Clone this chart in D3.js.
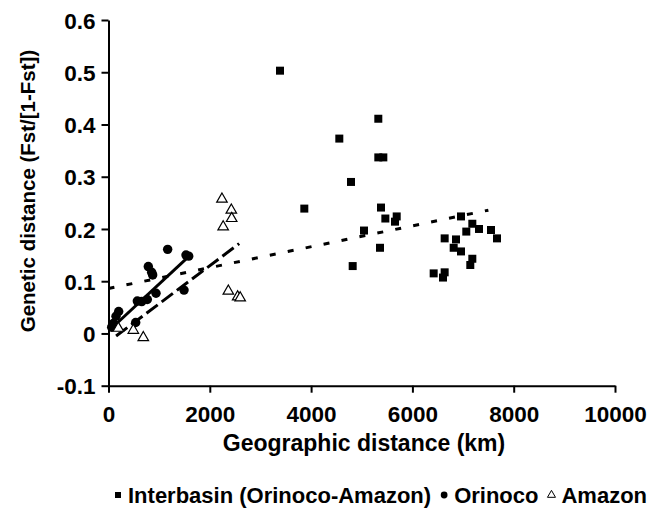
<html><head>
  <meta charset="utf-8">
  <script src="https://d3js.org/d3.v7.min.js"></script>
  <style>
    body { margin: 0; background: #fff; }
    text { font-family: 'Liberation Sans', Arial, sans-serif; font-weight: bold; fill: #000; }
  </style>
</head>
<body>
  <script>
    // Interbasin (Orinoco-Amazon) pairs: geographic km, genetic distance
    const interX = [3386, 5327, 4557, 5327, 5426, 4788, 3866, 5380, 5466, 5690, 5656, 5044, 5360, 4821,
                    6959, 7183, 7064, 7315, 7552, 7670, 6637, 6861, 6815, 6959, 7183, 7143, 6420, 6637, 6604]
    const interY = [0.503, 0.411, 0.373, 0.337, 0.337, 0.290, 0.239, 0.241, 0.220, 0.224, 0.214, 0.197, 0.164, 0.129,
                    0.224, 0.210, 0.195, 0.200, 0.198, 0.182, 0.182, 0.180, 0.164, 0.157, 0.143, 0.131, 0.115, 0.117, 0.107]
    // Orinoco pairs
    const orinX = [1168, 1530, 1583, 786, 852, 872, 938, 1491, 569, 655, 766, 201, 148, 95, 63, 537]
    const orinY = [0.161, 0.150, 0.148, 0.128, 0.117, 0.112, 0.077, 0.083, 0.062, 0.061, 0.065, 0.042, 0.033, 0.019, 0.012, 0.021]
    // Amazon pairs
    const amazX = [2240, 2425, 2432, 2264, 2366, 2550, 2600, 194, 490, 687]
    const amazY = [0.259, 0.238, 0.222, 0.206, 0.083, 0.072, 0.070, 0.012, 0.008, -0.006]
    // fitted lines, endpoints [km, distance]
    const fitInter = [[0, 0.086], [7500, 0.236]]
    const fitOrin = [[60, 0.010], [1560, 0.145]]
    const fitAmaz = [[150, -0.005], [2580, 0.172]]
    // axes
    const xTicks = [0, 2000, 4000, 6000, 8000, 10000]
    const yTicks = [-0.1, 0, 0.1, 0.2, 0.3, 0.4, 0.5, 0.6]
    const yTickLabels = ["-0.1", "0", "0.1", "0.2", "0.3", "0.4", "0.5", "0.6"]
    const legendLabels = ["Interbasin (Orinoco-Amazon)", "Orinoco", "Amazon"]

    const svg = d3.select("body").append("svg")
                  .attr("width", 659).attr("height", 513)

    const margin = {top: 20, left: 108.5, right: 44, bottom: 127.3}
    const x = d3.scaleLinear().domain([0, 10000]).range([margin.left, 659 - margin.right])
    const y = d3.scaleLinear().domain([-0.1, 0.6]).range([513 - margin.bottom, margin.top])

    // axes
    const xAxis = svg.append("g").attr("transform", `translate(0,${y(-0.1)})`)
                     .call(d3.axisBottom(x).tickValues(xTicks).tickSize(7).tickSizeOuter(0).tickFormat(d3.format("d")))
    const yAxis = svg.append("g").attr("transform", `translate(${x(0)},0)`)
                     .call(d3.axisLeft(y).tickValues(yTicks).tickSize(7).tickSizeOuter(0)
                     .tickFormat((d, i) => yTickLabels[i]))
    svg.selectAll(".domain, .tick line").attr("stroke", "#000").attr("stroke-width", 2)
    xAxis.selectAll("text").attr("font-size", 22.5).attr("dy", null).attr("y", 36)
    yAxis.selectAll("text").attr("font-size", 22.5).attr("x", -13).attr("dy", "0.36em")

    // axis titles
    svg.append("text").text("Geographic distance (km)")
       .attr("x", 364).attr("y", 451).attr("text-anchor", "middle").attr("font-size", 23)
    svg.append("text").text("Genetic distance (Fst/[1-Fst])")
       .attr("transform", `translate(35,191) rotate(-90)`)
       .attr("text-anchor", "middle").attr("font-size", 20.5)

    // fitted lines
    const line = d3.line().x(d => x(d[0])).y(d => y(d[1]))
    svg.append("path").attr("d", line(fitInter)).attr("fill", "none")
       .attr("stroke", "#000").attr("stroke-width", 3).attr("stroke-dasharray", "6,12.3")
    svg.append("path").attr("d", line(fitAmaz)).attr("fill", "none")
       .attr("stroke", "#000").attr("stroke-width", 3).attr("stroke-dasharray", "14,5")
    svg.append("path").attr("d", line(fitOrin)).attr("fill", "none")
       .attr("stroke", "#000").attr("stroke-width", 3)

    // points
    const sqSym = d3.symbol().type(d3.symbolSquare).size(64)
    const ciSym = d3.symbol().type(d3.symbolCircle).size(70)
    const trSym = d3.symbol().type(d3.symbolTriangle).size(48)

    svg.append("g").selectAll("path").data(d3.zip(interX, interY)).join("path")
       .attr("d", sqSym).attr("transform", d => `translate(${x(d[0])},${y(d[1])})`).attr("fill", "#000")
    svg.append("g").selectAll("path").data(d3.zip(orinX, orinY)).join("path")
       .attr("d", ciSym).attr("transform", d => `translate(${x(d[0])},${y(d[1])})`).attr("fill", "#000")
    svg.append("g").selectAll("path").data(d3.zip(amazX, amazY)).join("path")
       .attr("d", trSym).attr("transform", d => `translate(${x(d[0])},${y(d[1]) + 1})`)
       .attr("fill", "#fff").attr("stroke", "#000").attr("stroke-width", 1.2)

    // legend
    const legend = svg.append("g").attr("transform", "translate(0,503)")
    const legSyms = [d3.symbol().type(d3.symbolSquare).size(36), d3.symbol().type(d3.symbolCircle).size(36),
                     d3.symbol().type(d3.symbolTriangle).size(28)]
    let lx = 118
    legendLabels.forEach((lab, i) => {
      legend.append("path").attr("d", legSyms[i]).attr("transform", `translate(${lx},-8)`)
            .attr("fill", i === 2 ? "#fff" : "#000").attr("stroke", i === 2 ? "#000" : "none")
      const t = legend.append("text").text(lab).attr("x", lx + 10).attr("font-size", 22)
      lx += 10 + t.node().getComputedTextLength() + 13
    })
  </script>
</body></html>
